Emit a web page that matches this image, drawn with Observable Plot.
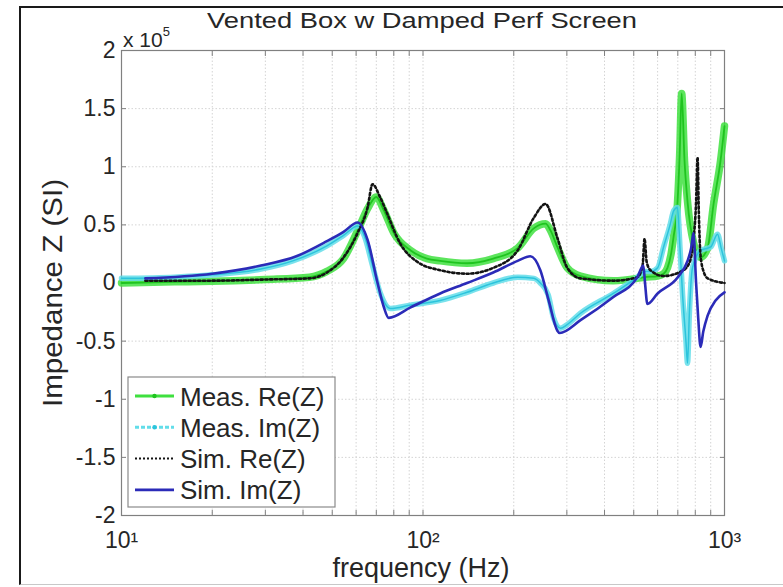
<!DOCTYPE html>
<html><head><meta charset="utf-8">
<script src="https://cdn.jsdelivr.net/npm/d3@7"></script>
<script src="https://cdn.jsdelivr.net/npm/@observablehq/plot@0.6"></script>
<style>
html,body{margin:0;padding:0;background:#fff;}
#wrap{position:relative;width:783px;height:587px;overflow:hidden;background:#fff;}
#frame{position:absolute;left:19px;top:6px;right:-10px;bottom:2px;border-left:2px solid #1a1a1a;border-top:2px solid #1a1a1a;border-bottom:1px solid #c8c8c8;pointer-events:none;}
#wrap svg{position:absolute;left:0;top:0;}
</style></head><body><div id="wrap"><div id="frame"></div></div>
<script>
// ---- data (values in units of 1e5 SI) ----
const measReFreq = [10,15,20,30,42,48,54.5,60.7,65.5,70,74,80,91,103,114,140,171,206,233,255,265,279,301,333,428,514,543,600,628,647,665,678,698,710,721,737,754,789,833,879,920,970,1000];
const measRe     = [0.00,0.01,0.015,0.03,0.05,0.10,0.21,0.45,0.64,0.74,0.63,0.43,0.28,0.21,0.19,0.17,0.21,0.30,0.47,0.51,0.45,0.31,0.13,0.06,0.02,0.04,0.05,0.06,0.08,0.13,0.25,0.40,0.68,1.10,1.63,1.05,0.70,0.35,0.22,0.30,0.68,1.05,1.35];

const measImFreq = [10,15,20,29,37,48,54.5,60.7,64,68,72,78,91,114,140,171,206,233,245,260,271,286,300,333,428,514,543,570,600,628,660,678,698,712,726,745,754,765,783,833,900,948,975,1000];
const measIm     = [0.04,0.05,0.07,0.12,0.19,0.32,0.41,0.49,0.40,0.15,-0.08,-0.22,-0.19,-0.15,-0.08,0.00,0.05,0.04,0.00,-0.10,-0.30,-0.39,-0.36,-0.26,-0.09,0.05,0.10,0.10,0.13,0.31,0.50,0.62,0.65,0.30,-0.10,-0.50,-0.69,-0.25,0.13,0.28,0.31,0.42,0.30,0.19];

const simReFreq = [12,20,30,42,48,54.5,60.7,65.5,68,72,76,84,96,114,140,171,206,233,255,279,301,333,428,514,535,543,552,568,628,731,771,789,805,814,822,832,852,880,1000];
const simRe     = [0.02,0.02,0.03,0.04,0.09,0.22,0.43,0.65,0.85,0.74,0.60,0.34,0.18,0.11,0.08,0.13,0.28,0.56,0.68,0.39,0.13,0.04,0.02,0.05,0.15,0.38,0.18,0.11,0.06,0.11,0.20,0.37,0.70,1.08,0.60,0.25,0.10,0.04,0.00];

const simImFreq = [12,20,29,38,48,54.5,60.7,65.5,70.7,74,77,91,114,140,171,206,227,245,261,279,284,333,428,514,538,545,555,600,700,754,775,789,805,818,833,850,879,934,1000];
const simIm     = [0.04,0.08,0.15,0.23,0.36,0.44,0.52,0.37,0.00,-0.20,-0.30,-0.21,-0.09,0.00,0.09,0.19,0.23,0.11,-0.15,-0.41,-0.43,-0.32,-0.12,0.05,0.15,0.00,-0.18,-0.09,0.05,0.19,0.30,0.43,0.00,-0.30,-0.55,-0.42,-0.28,-0.15,-0.08];

const seriesNames = ["Meas. Re(Z)","Meas. Im(Z)","Sim. Re(Z)","Sim. Im(Z)"];
const xMajorTicks = [10,100,1000];
const xTickLabels = ["10\u00B9","10\u00B2","10\u00B3"];
const xAllTicks = [10,20,30,40,50,60,70,80,90,100,200,300,400,500,600,700,800,900,1000];
const yTicks = [-2,-1.5,-1,-0.5,0,0.5,1,1.5,2];
const yTickLabels = ["-2","-1.5","-1","-0.5","0","0.5","1","1.5","2"];
const titleText = "Vented Box w Damped Perf Screen";
const xLabel = "frequency (Hz)";
const yLabel = "Impedance Z (SI)";

const rows = (fs, vs) => fs.map((f, i) => ({f, v: vs[i]}));
const measReRows = rows(measReFreq, measRe);
const measImRows = rows(measImFreq, measIm);
const simReRows = rows(simReFreq, simRe);
const simImRows = rows(simImFreq, simIm);

const FONT = '"Liberation Sans", Arial, Helvetica, sans-serif';
const C = {mre:"#3fe03f", mreCore:"#1fc41f", mim:"#62dde9", mimCore:"#2cc4dc", sre:"#141414", sim:"#2b2bb8"};

const plot = Plot.plot({
  width: 783, height: 587,
  marginLeft: 121, marginRight: 59, marginTop: 50, marginBottom: 72,
  x: {type: "log", domain: [10, 1000]},
  y: {domain: [-2, 2]},
  style: {fontFamily: FONT, background: "transparent", color: "#262626", overflow: "visible"},
  marks: [
    Plot.gridX(xAllTicks, {stroke: "#d4d4d4", strokeOpacity: 1, strokeDasharray: "1.5,2"}),
    Plot.gridY(yTicks, {stroke: "#d4d4d4", strokeOpacity: 1, strokeDasharray: "1.5,2"}),
    Plot.frame({stroke: "#808080", strokeWidth: 1.2}),
    Plot.axisX(xAllTicks, {anchor: "bottom", tickSize: 5, dy: -5, tickFormat: () => "", stroke: "#808080", label: null}),
    Plot.axisX(xAllTicks, {anchor: "top", tickSize: 5, dy: 5, tickFormat: () => "", stroke: "#808080", label: null}),
    Plot.axisX(xMajorTicks, {anchor: "bottom", tickSize: 0, tickPadding: 16, fontSize: 23, tickFormat: (d) => xTickLabels[xMajorTicks.indexOf(d)], label: null}),
    Plot.axisY(yTicks, {anchor: "left", tickSize: 5, dx: 5, tickFormat: () => "", stroke: "#808080", label: null}),
    Plot.axisY(yTicks, {anchor: "right", tickSize: 5, dx: -5, tickFormat: () => "", stroke: "#808080", label: null}),
    Plot.axisY(yTicks, {anchor: "left", tickSize: 0, tickPadding: 6, fontSize: 23, tickFormat: (d) => yTickLabels[yTicks.indexOf(d)], label: null}),
    // Measured Re(Z): thick band of markers
    Plot.line(measReRows, {x: "f", y: "v", stroke: C.mre, strokeWidth: 7.5, curve: "monotone-x", strokeOpacity: 0.85}),
    Plot.line(measReRows, {x: "f", y: "v", stroke: C.mreCore, strokeWidth: 1.8, curve: "monotone-x"}),
    // Measured Im(Z)
    Plot.line(measImRows, {x: "f", y: "v", stroke: C.mim, strokeWidth: 5.5, curve: "monotone-x", strokeOpacity: 0.85}),
    Plot.line(measImRows, {x: "f", y: "v", stroke: C.mimCore, strokeWidth: 1.5, curve: "monotone-x"}),
    // Simulated Re(Z): dotted black
    Plot.line(simReRows, {x: "f", y: "v", stroke: C.sre, strokeWidth: 2.6, strokeDasharray: "2.2,2.6", curve: "monotone-x"}),
    // Simulated Im(Z): solid blue
    Plot.line(simImRows, {x: "f", y: "v", stroke: C.sim, strokeWidth: 2.6, curve: "monotone-x"})
  ]
});

document.getElementById("wrap").appendChild(plot);

// annotations
const svg = d3.select(plot);
svg.append("text").attr("x", 422).attr("y", 28).attr("text-anchor", "middle")
  .attr("font-family", FONT).attr("font-size", 22).attr("fill", "#262626")
  .attr("textLength", 430).attr("lengthAdjust", "spacingAndGlyphs").text(titleText);
const mult = svg.append("text").attr("x", 123).attr("y", 47).attr("text-anchor", "start")
  .attr("font-family", FONT).attr("font-size", 21).attr("fill", "#262626");
mult.append("tspan").text("x 10");
mult.append("tspan").attr("font-size", 13).attr("dy", -11).text("5");
svg.append("text").attr("x", 421).attr("y", 577).attr("text-anchor", "middle")
  .attr("font-family", FONT).attr("font-size", 27).attr("fill", "#262626").text(xLabel);
svg.append("text").attr("transform", "translate(62,293) rotate(-90)").attr("text-anchor", "middle")
  .attr("font-family", FONT).attr("font-size", 27).attr("fill", "#262626")
  .attr("textLength", 228).attr("lengthAdjust", "spacingAndGlyphs").text(yLabel);

// legend
const lg = svg.append("g");
lg.append("rect").attr("x", 128).attr("y", 377).attr("width", 207).attr("height", 130)
  .attr("fill", "#fff").attr("stroke", "#8a8a8a").attr("stroke-width", 1.2);
const lgStyles = [
  {stroke: C.mre, w: 3, dash: null, marker: C.mreCore},
  {stroke: C.mim, w: 3, dash: "4,2", marker: C.mimCore},
  {stroke: C.sre, w: 2, dash: "2,2", marker: null},
  {stroke: C.sim, w: 2.6, dash: null, marker: null}
];
seriesNames.forEach((name, i) => {
  const yc = 396 + i * 31.3;
  const s = lgStyles[i];
  const l = lg.append("line").attr("x1", 135).attr("x2", 174).attr("y1", yc).attr("y2", yc)
    .attr("stroke", s.stroke).attr("stroke-width", s.w);
  if (s.dash) l.attr("stroke-dasharray", s.dash);
  if (s.marker) lg.append("circle").attr("cx", 154.5).attr("cy", yc).attr("r", 2.2).attr("fill", s.marker);
  lg.append("text").attr("x", 180).attr("y", yc + 9.5).attr("text-anchor", "start")
    .attr("font-family", FONT).attr("font-size", 26).attr("fill", "#262626").text(name);
});
</script></body></html>
